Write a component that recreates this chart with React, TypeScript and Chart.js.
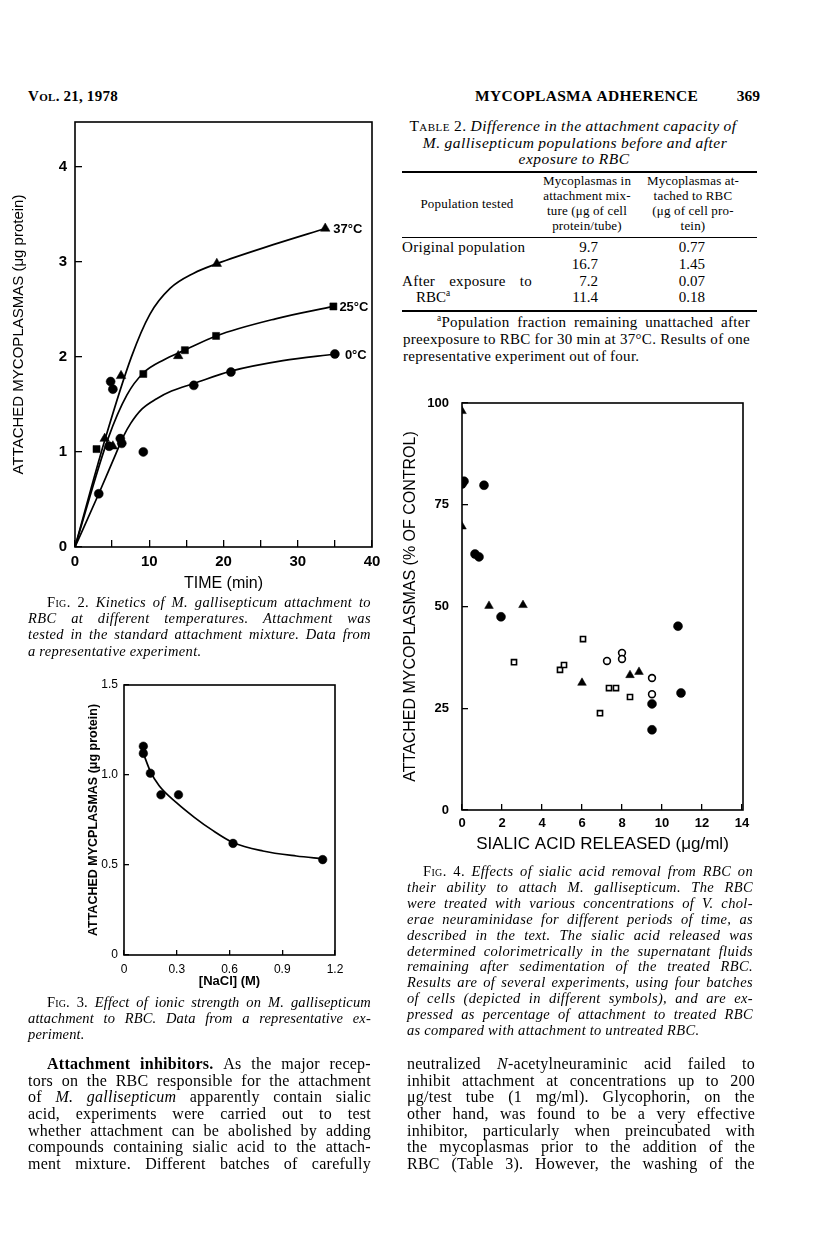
import React, { useEffect, useRef } from 'react';
import { Chart, registerables } from 'chart.js';

Chart.register(...registerables);

const SANS = '"Liberation Sans", Arial, sans-serif';
const SERIF = '"Liberation Serif", "Times New Roman", serif';

// ---------- Fig. 2: kinetics at different temperatures ----------
const fig2XTicks = [0, 10, 20, 30, 40];
const fig2Labels = ['37°C', '25°C', '0°C'];
const fig2T37x = [4.0, 5.1, 6.2, 13.9, 19.1, 33.7];
const fig2T37y = [1.14, 1.06, 1.8, 2.01, 2.98, 3.35];
const fig2T25x = [2.9, 9.2, 14.8, 19.0, 34.8];
const fig2T25y = [1.03, 1.82, 2.07, 2.22, 2.53];
const fig2T0x = [3.2, 4.6, 4.8, 5.1, 6.1, 6.3, 9.2, 16.0, 21.0, 35.0];
const fig2T0y = [0.56, 1.06, 1.74, 1.66, 1.14, 1.09, 1.0, 1.7, 1.84, 2.03];
const fig2Curve37x = [0, 4, 7.6, 10.1, 12.8, 16.0, 19.1, 26.7, 33.7];
const fig2Curve37y = [0, 1.12, 2.0, 2.45, 2.72, 2.88, 2.98, 3.18, 3.35];
const fig2Curve25x = [0, 4.5, 7.0, 9.2, 12.0, 14.5, 19.0, 27.0, 34.8];
const fig2Curve25y = [0, 1.15, 1.6, 1.83, 1.97, 2.06, 2.22, 2.4, 2.53];
const fig2Curve0x = [0, 3.2, 5.5, 6.5, 7.5, 9.0, 11.0, 13.0, 16.0, 21.0, 28.0, 35.0];
const fig2Curve0y = [0, 0.56, 0.98, 1.16, 1.3, 1.45, 1.56, 1.64, 1.72, 1.85, 1.96, 2.03];

// ---------- Fig. 3: ionic strength ----------
const fig3NaCl = [0.11, 0.11, 0.15, 0.21, 0.31, 0.62, 1.13];
const fig3Attached = [1.16, 1.12, 1.01, 0.89, 0.89, 0.62, 0.53];
const fig3CurveX = [0.11, 0.15, 0.2, 0.3, 0.4, 0.5, 0.62, 0.79, 0.98, 1.13];
const fig3CurveY = [1.12, 1.02, 0.94, 0.845, 0.765, 0.695, 0.625, 0.578, 0.55, 0.535];

// ---------- Fig. 4: sialic acid released ----------
const fig4FilledCircX = [0, 0.1, 1.1, 0.65, 0.85, 1.95, 10.8, 10.95, 9.5, 9.5];
const fig4FilledCircY = [80.5, 81.2, 80.2, 63.2, 62.5, 47.7, 45.4, 28.9, 26.2, 19.8];
const fig4TriX = [0, 0, 1.35, 3.05, 6.0, 8.4, 8.85];
const fig4TriY = [98.5, 70, 50.4, 50.6, 31.4, 33.3, 34.1];
const fig4OpenSqX = [2.6, 4.9, 5.1, 6.05, 6.9, 7.35, 7.7, 8.4];
const fig4OpenSqY = [36.5, 34.6, 35.8, 42.2, 23.9, 30.1, 30.1, 27.9];
const fig4OpenCircX = [7.25, 8.0, 8.0, 9.5, 9.5];
const fig4OpenCircY = [36.8, 38.8, 37.3, 32.6, 28.6];

const xy = (xs: number[], ys: number[]) => xs.map((x, i) => ({ x, y: ys[i] }));

const pts = (xs: number[], ys: number[], style: string, r: number, filled = true) => ({
  data: xy(xs, ys),
  showLine: false,
  pointStyle: style,
  pointRadius: r,
  pointHoverRadius: r,
  backgroundColor: filled ? '#000' : '#fff',
  borderColor: '#000',
  borderWidth: filled ? 0.5 : 1.6,
});

const curve = (xs: number[], ys: number[]) => ({
  data: xy(xs, ys),
  showLine: true,
  pointRadius: 0,
  pointHoverRadius: 0,
  borderColor: '#000',
  backgroundColor: '#000',
  borderWidth: 1.7,
  cubicInterpolationMode: 'monotone',
  fill: false,
});

const fixAxis = (size: number, horizontal: boolean) => (scale: any) => {
  if (horizontal) scale.height = size;
  else scale.width = size;
  scale.paddingLeft = 0;
  scale.paddingRight = 0;
  scale.paddingTop = 0;
  scale.paddingBottom = 0;
};

const boxPlugin = {
  id: 'box',
  afterDraw(chart: any) {
    const { ctx, chartArea } = chart;
    ctx.save();
    ctx.strokeStyle = '#000';
    ctx.lineWidth = 1.6;
    ctx.strokeRect(chartArea.left, chartArea.top, chartArea.right - chartArea.left, chartArea.bottom - chartArea.top);
    ctx.restore();
  },
};

const tempLabelPlugin = {
  id: 'tempLabels',
  afterDatasetsDraw(chart: any) {
    const { ctx } = chart;
    const sx = chart.scales.x;
    const sy = chart.scales.y;
    const series = [
      [fig2T37x, fig2T37y, 8],
      [fig2T25x, fig2T25y, 6],
      [fig2T0x, fig2T0y, 10],
    ] as [number[], number[], number][];
    ctx.save();
    ctx.fillStyle = '#000';
    ctx.font = `bold 13px ${SANS}`;
    ctx.textBaseline = 'middle';
    series.forEach(([xs, ys, off], i) => {
      const lx = xs[xs.length - 1];
      const ly = ys[ys.length - 1];
      ctx.fillText(fig2Labels[i], sx.getPixelForValue(lx) + off, sy.getPixelForValue(ly) + 1);
    });
    ctx.restore();
  },
};

const tickFont = (size: number, weight: any = 'bold') => ({ family: SANS, size, weight });

function axis(o: {
  min: number; max: number; step: number; size: number; horizontal: boolean; tl: number; pad: number;
  font: any; title: string; titleFont: any; titlePad: any; cb?: (v: number) => string;
}) {
  return {
    type: 'linear',
    position: o.horizontal ? 'bottom' : 'left',
    min: o.min,
    max: o.max,
    afterFit: fixAxis(o.size, o.horizontal),
    ticks: {
      stepSize: o.step,
      includeBounds: false,
      autoSkip: false,
      maxRotation: 0,
      minRotation: 0,
      padding: o.pad,
      color: '#000',
      font: o.font,
      callback: o.cb ? (v: any) => o.cb!(Number(v)) : undefined,
    },
    grid: { drawOnChartArea: false, tickLength: o.tl, color: '#000', lineWidth: 1.3 },
    border: { display: false },
    title: { display: true, text: o.title, color: '#000', font: o.titleFont, padding: o.titlePad },
  };
}

const baseOptions = (padding: any, scales: any) => ({
  responsive: false,
  maintainAspectRatio: false,
  devicePixelRatio: 1,
  animation: false,
  events: [],
  layout: { padding },
  plugins: { legend: { display: false }, tooltip: { enabled: false } },
  scales,
});

function makeFig2(): any {
  return {
    type: 'scatter',
    data: {
      datasets: [
        pts(fig2T37x, fig2T37y, 'triangle', 5.5),
        pts(fig2T25x, fig2T25y, 'rect', 5),
        pts(fig2T0x, fig2T0y, 'circle', 4.5),
        curve(fig2Curve37x, fig2Curve37y),
        curve(fig2Curve25x, fig2Curve25y),
        curve(fig2Curve0x, fig2Curve0y),
      ],
    },
    options: baseOptions({ left: 0, top: 12, right: 18, bottom: 0 }, {
      x: axis({
        min: 0, max: 40, step: 5, size: 53, horizontal: true, tl: -7, pad: 13,
        font: tickFont(15), title: 'TIME (min)', titleFont: tickFont(16, 'normal'),
        titlePad: { top: 0, bottom: 7 },
        cb: (v) => (fig2XTicks.includes(v) ? String(v) : ''),
      }),
      y: axis({
        min: 0, max: 4.47, step: 1, size: 75, horizontal: false, tl: -7, pad: 15,
        font: tickFont(15), title: 'ATTACHED MYCOPLASMAS (μg protein)', titleFont: tickFont(15, 'normal'),
        titlePad: { top: 10, bottom: 0 },
      }),
    }),
    plugins: [boxPlugin, tempLabelPlugin],
  };
}

function makeFig3(): any {
  return {
    type: 'scatter',
    data: {
      datasets: [
        pts(fig3NaCl, fig3Attached, 'circle', 4.3),
        curve(fig3CurveX, fig3CurveY),
      ],
    },
    options: baseOptions({ left: 0, top: 15, right: 15, bottom: 0 }, {
      x: axis({
        min: 0, max: 1.2, step: 0.3, size: 40, horizontal: true, tl: -5, pad: 12,
        font: tickFont(12, 'normal'), title: '[NaCl] (M)', titleFont: tickFont(13, 'bold'),
        titlePad: { top: 0, bottom: 6 },
        cb: (v) => (v === 0 ? '0' : v.toFixed(1)),
      }),
      y: axis({
        min: 0, max: 1.5, step: 0.5, size: 64, horizontal: false, tl: -5, pad: 11,
        font: tickFont(12, 'normal'), title: 'ATTACHED MYCPLASMAS (μg protein)', titleFont: tickFont(12.5, 'bold'),
        titlePad: { top: 26, bottom: 0 },
        cb: (v) => (v === 0 ? '0' : v.toFixed(1)),
      }),
    }),
    plugins: [boxPlugin],
  };
}

function makeFig4(): any {
  return {
    type: 'scatter',
    data: {
      datasets: [
        pts(fig4FilledCircX, fig4FilledCircY, 'circle', 4.5),
        pts(fig4TriX, fig4TriY, 'triangle', 5),
        pts(fig4OpenSqX, fig4OpenSqY, 'rect', 3.6, false),
        pts(fig4OpenCircX, fig4OpenCircY, 'circle', 3.4, false),
      ],
    },
    options: baseOptions({ left: 0, top: 18, right: 12, bottom: 0 }, {
      x: axis({
        min: 0, max: 14.05, step: 2, size: 55, horizontal: true, tl: -6, pad: 12,
        font: tickFont(13), title: 'SIALIC ACID RELEASED (μg/ml)', titleFont: tickFont(17, 'normal'),
        titlePad: { top: 0, bottom: 10 },
        cb: (v) => String(Math.floor(v)),
      }),
      y: axis({
        min: 0, max: 100.5, step: 25, size: 77, horizontal: false, tl: -6, pad: 19,
        font: tickFont(13), title: 'ATTACHED MYCOPLASMAS (% OF CONTROL)', titleFont: tickFont(16, 'normal'),
        titlePad: { top: 16, bottom: 0 },
        cb: (v) => String(Math.floor(v)),
      }),
    }),
    plugins: [boxPlugin],
  };
}

function ChartBox(props: { left: number; top: number; width: number; height: number; make: () => any }) {
  const ref = useRef<HTMLCanvasElement>(null);
  useEffect(() => {
    const chart = new Chart(ref.current as HTMLCanvasElement, props.make());
    return () => chart.destroy();
  }, []);
  return (
    <div style={{ position: 'absolute', left: props.left, top: props.top, width: props.width, height: props.height }}>
      <canvas ref={ref} width={props.width} height={props.height} style={{ width: props.width, height: props.height, display: 'block' }} />
    </div>
  );
}

// ---------- text helpers ----------
function Word({ w, italic, bold }: { w: string; italic: boolean; bold: boolean }) {
  const segs = w.split('|');
  return (
    <span style={{ whiteSpace: 'nowrap' }}>
      {segs.map((s0, i) => {
        let s = s0;
        let it = italic;
        let b = bold;
        let sc = false;
        let sup = false;
        while (s.length > 1 && '!#%^'.includes(s[0])) {
          const c = s[0];
          s = s.slice(1);
          if (c === '!') it = !it;
          if (c === '#') b = !b;
          if (c === '%') sc = true;
          if (c === '^') sup = true;
        }
        return (
          <span
            key={i}
            style={{
              fontStyle: it ? 'italic' : 'normal',
              fontWeight: b ? 700 : 400,
              fontVariant: sc ? 'small-caps' : 'normal',
              verticalAlign: sup ? 'super' : undefined,
              fontSize: sup ? '0.62em' : undefined,
              lineHeight: sup ? '1' : undefined,
            }}
          >
            {s}
          </span>
        );
      })}
    </span>
  );
}

type TxtProps = {
  x: number; y: number; w?: number; text: string; size?: number; italic?: boolean; bold?: boolean;
  justify?: boolean; align?: 'left' | 'center' | 'right'; family?: string; ls?: number;
};

function Txt({ x, y, w, text, size = 15, italic = false, bold = false, justify = false, align = 'left', family = SERIF, ls = 0 }: TxtProps) {
  const words = text.split(' ');
  let left = x;
  let width: number | undefined = w;
  if (!justify && align === 'center' && w === undefined) {
    left = x - 300;
    width = 600;
  }
  if (!justify && align === 'right' && w === undefined) {
    left = x - 600;
    width = 600;
  }
  return (
    <div
      style={{
        position: 'absolute',
        left,
        top: y - 10,
        width,
        height: 18,
        lineHeight: '18px',
        fontSize: size,
        fontFamily: family,
        letterSpacing: ls,
        color: '#000',
        whiteSpace: 'nowrap',
        display: 'flex',
        alignItems: 'baseline',
        justifyContent: justify ? 'space-between' : align === 'center' ? 'center' : align === 'right' ? 'flex-end' : 'flex-start',
        gap: justify ? 0 : '0.25em',
      }}
    >
      {words.map((wd, i) => (
        <Word key={i} w={wd} italic={italic} bold={bold} />
      ))}
    </div>
  );
}

const LEFT_X = 28;
const LEFT_R = 371;
const RIGHT_X = 407;
const RIGHT_R = 755;

const fig2Caption = [
  '!%Fig. !2. Kinetics of M. gallisepticum attachment to',
  'RBC at different temperatures. Attachment was',
  'tested in the standard attachment mixture. Data from',
  'a representative experiment.',
];
const fig3Caption = [
  '!%Fig. !3. Effect of ionic strength on M. gallisepticum',
  'attachment to RBC. Data from a representative ex-',
  'periment.',
];
const fig4Caption = [
  '!%Fig. !4. Effects of sialic acid removal from RBC on',
  'their ability to attach M. gallisepticum. The RBC',
  'were treated with various concentrations of V. chol-',
  'erae neuraminidase for different periods of time, as',
  'described in the text. The sialic acid released was',
  'determined colorimetrically in the supernatant fluids',
  'remaining after sedimentation of the treated RBC.',
  'Results are of several experiments, using four batches',
  'of cells (depicted in different symbols), and are ex-',
  'pressed as percentage of attachment to treated RBC',
  'as compared with attachment to untreated RBC.',
];
const bodyLeft = [
  '#Attachment #inhibitors. As the major recep-',
  'tors on the RBC responsible for the attachment',
  'of !M. !gallisepticum apparently contain sialic',
  'acid, experiments were carried out to test',
  'whether attachment can be abolished by adding',
  'compounds containing sialic acid to the attach-',
  'ment mixture. Different batches of carefully',
];
const bodyRight = [
  'neutralized !N|-acetylneuraminic acid failed to',
  'inhibit attachment at concentrations up to 200',
  'μg/test tube (1 mg/ml). Glycophorin, on the',
  'other hand, was found to be a very effective',
  'inhibitor, particularly when preincubated with',
  'the mycoplasmas prior to the addition of the',
  'RBC (Table 3). However, the washing of the',
];
const bodyY = [1065, 1082, 1098, 1115, 1132, 1148, 1165];

function Paragraph({ lines, x, r, y0, dy, indent, italic, size, lastJustify = false, ys, ls = 0.3 }: any) {
  return (
    <>
      {lines.map((t: string, i: number) => {
        const last = i === lines.length - 1;
        const lx = i === 0 ? x + indent : x;
        const y = ys ? ys[i] : y0 + i * dy;
        return (
          <Txt key={i} x={lx} y={y} w={!last || lastJustify ? r - lx : undefined} justify={!last || lastJustify} text={t} italic={italic} size={size} ls={ls} />
        );
      })}
    </>
  );
}

function Rule({ y, h = 1.5 }: { y: number; h?: number }) {
  return <div style={{ position: 'absolute', left: 402, width: 355, top: y - h / 2, height: h, background: '#000' }} />;
}

export default function App() {
  return (
    <div style={{ position: 'fixed', left: 0, top: 0, width: 816, height: 1253, background: '#fff', overflow: 'hidden' }}>
      {/* running head */}
      <Txt x={28} y={97} text="%Vol. 21, 1978" bold size={15} ls={0.3} />
      <Txt x={475} y={97} text="MYCOPLASMA ADHERENCE" bold size={15.5} ls={0.3} />
      <Txt x={760} y={97} text="369" bold size={15.5} align="right" />

      {/* Table 2 */}
      <Txt x={573} y={127} text="!%Table !2. Difference in the attachment capacity of" italic size={15.5} align="center" ls={0.5} />
      <Txt x={575} y={144} text="M. gallisepticum populations before and after" italic size={15.5} align="center" ls={0.5} />
      <Txt x={574} y={160} text="exposure to RBC" italic size={15.5} align="center" ls={0.5} />
      <Rule y={172} />
      <Txt x={467} y={205} text="Population tested" size={13} align="center" ls={0.2} />
      {['Mycoplasmas in', 'attachment mix-', 'ture (μg of cell', 'protein/tube)'].map((t, i) => (
        <Txt key={'c2' + i} x={587} y={182 + i * 15} text={t} size={13} align="center" ls={0.2} />
      ))}
      {['Mycoplasmas at-', 'tached to RBC', '(μg of cell pro-', 'tein)'].map((t, i) => (
        <Txt key={'c3' + i} x={693} y={182 + i * 15} text={t} size={13} align="center" ls={0.2} />
      ))}
      <Rule y={237} h={1} />
      <Txt x={402} y={248} text="Original population" size={15} ls={0.3} />
      <Txt x={402} y={282} w={130} justify text="After exposure to" size={15} ls={0.3} />
      <Txt x={416} y={298} text="RBC|^a" size={15} />
      {['9.7', '16.7', '7.2', '11.4'].map((t, i) => (
        <Txt key={'v2' + i} x={598} y={[248, 265, 282, 298][i]} text={t} size={15} align="right" />
      ))}
      {['0.77', '1.45', '0.07', '0.18'].map((t, i) => (
        <Txt key={'v3' + i} x={705} y={[248, 265, 282, 298][i]} text={t} size={15} align="right" />
      ))}
      <Rule y={311} />
      <Txt x={437} y={323} w={313} justify text="^a|Population fraction remaining unattached after" size={15} ls={0.3} />
      <Txt x={403} y={340} w={347} justify text="preexposure to RBC for 30 min at 37°C. Results of one" size={15} ls={0.3} />
      <Txt x={403} y={357} text="representative experiment out of four." size={15} ls={0.3} />

      {/* figures */}
      <ChartBox left={0} top={110} width={390} height={490} make={makeFig2} />
      <ChartBox left={60} top={670} width={290} height={325} make={makeFig3} />
      <ChartBox left={385} top={385} width={370} height={480} make={makeFig4} />

      {/* captions */}
      <Paragraph lines={fig2Caption} x={LEFT_X} r={LEFT_R} y0={603} dy={16.2} indent={19} italic size={14.5} ls={0.35} />
      <Paragraph lines={fig3Caption} x={LEFT_X} r={LEFT_R} y0={1003} dy={16.2} indent={19} italic size={14.5} ls={0.15} />
      <Paragraph lines={fig4Caption} x={RIGHT_X} r={RIGHT_R - 2} y0={872} dy={15.9} indent={16} italic size={14.5} ls={0.35} />

      {/* body text */}
      <Paragraph lines={bodyLeft} x={LEFT_X} r={LEFT_R} ys={bodyY} indent={19} italic={false} size={16} lastJustify ls={0.25} />
      <Paragraph lines={bodyRight} x={RIGHT_X} r={RIGHT_R} ys={bodyY} indent={0} italic={false} size={16} lastJustify ls={0.25} />
    </div>
  );
}
